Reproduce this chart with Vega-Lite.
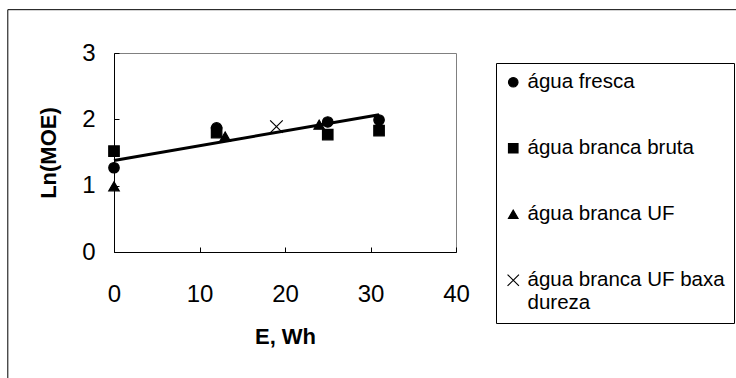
{
  "$schema": "https://vega.github.io/schema/vega-lite/v6.json",
  "autosize": "none",
  "width": 342,
  "height": 199,
  "padding": {"left": 114, "top": 53, "right": 280, "bottom": 126},
  "background": "white",
  "config": {
    "font": "Liberation Sans",
    "view": {"stroke": "#808080", "strokeWidth": 1},
    "axis": {
      "labelFont": "Liberation Sans",
      "titleFont": "Liberation Sans",
      "labelFontSize": 24,
      "titleFontSize": 22,
      "titleFontWeight": "bold",
      "labelColor": "black",
      "titleColor": "black",
      "domainColor": "black",
      "tickColor": "black",
      "grid": false
    }
  },
  "datasets": {
    "pts": [
      {"E": 0, "lnMOE": 1.27, "serie": "água fresca"},
      {"E": 12, "lnMOE": 1.87, "serie": "água fresca"},
      {"E": 25, "lnMOE": 1.96, "serie": "água fresca"},
      {"E": 31, "lnMOE": 1.99, "serie": "água fresca"},
      {"E": 0, "lnMOE": 1.52, "serie": "água branca bruta"},
      {"E": 12, "lnMOE": 1.8, "serie": "água branca bruta"},
      {"E": 25, "lnMOE": 1.77, "serie": "água branca bruta"},
      {"E": 31, "lnMOE": 1.83, "serie": "água branca bruta"},
      {"E": 0, "lnMOE": 0.99, "serie": "água branca UF"},
      {"E": 13, "lnMOE": 1.74, "serie": "água branca UF"},
      {"E": 24, "lnMOE": 1.92, "serie": "água branca UF"},
      {"E": 19, "lnMOE": 1.89, "serie": "água branca UF baxa dureza"}
    ],
    "trend": [
      {"E": 0, "lnMOE": 1.38},
      {"E": 31, "lnMOE": 2.07}
    ]
  },
  "layer": [
    {
      "data": {"values": [{"a": 1}]},
      "mark": {"type": "rect", "clip": false, "fill": null, "stroke": "black", "strokeWidth": 1},
      "encoding": {
        "x": {"datum": -12.42, "type": "quantitative", "scale": {"domain": [0, 40]}},
        "x2": {"datum": 80},
        "y": {"datum": 3.653, "type": "quantitative"},
        "y2": {"datum": -4}
      }
    },
    {
      "data": {"name": "trend"},
      "mark": {"type": "line", "color": "black", "strokeWidth": 3},
      "encoding": {
        "x": {"field": "E", "type": "quantitative"},
        "y": {"field": "lnMOE", "type": "quantitative"}
      }
    },
    {
      "data": {"name": "pts"},
      "mark": {"type": "point", "filled": false, "strokeWidth": 1.2, "opacity": 1, "size": 110},
      "encoding": {
        "x": {
          "field": "E", "type": "quantitative", "title": "E, Wh",
          "scale": {"domain": [0, 40], "nice": false},
          "axis": {"values": [0, 10, 20, 30, 40], "format": "d", "labelFlush": false, "tickSize": -5, "labelPadding": 35, "titlePadding": 20}
        },
        "y": {
          "field": "lnMOE", "type": "quantitative", "title": "Ln(MOE)",
          "scale": {"domain": [0, 3], "nice": false},
          "axis": {"values": [0, 1, 2, 3], "format": "d", "tickSize": -5, "labelPadding": 24, "titlePadding": 21}
        },
        "shape": {
          "field": "serie", "type": "nominal",
          "scale": {
            "domain": ["água fresca", "água branca bruta", "água branca UF", "água branca UF baxa dureza"],
            "range": ["circle", "square", "triangle-up", "M-1.2,-1.2L1.2,1.2M-1.2,1.2L1.2,-1.2"]
          },
          "legend": {
            "title": null,
            "orient": "none",
            "legendX": 382,
            "legendY": 10,
            "strokeColor": "black",
            "fillColor": "white",
            "padding": 9,
            "rowPadding": 45,
            "labelFontSize": 20.5,
            "labelFont": "Liberation Sans",
            "labelColor": "black",
            "labelLimit": 300,
            "symbolSize": 90,
            "symbolStrokeWidth": 1.2,
            "symbolOffset": -2,
            "labelOffset": 4,
            "labelExpr": "datum.label == 'água branca UF baxa dureza' ? ['água branca UF baxa', 'dureza'] : datum.label"
          }
        },
        "fill": {
          "field": "serie", "type": "nominal",
          "scale": {
            "domain": ["água fresca", "água branca bruta", "água branca UF", "água branca UF baxa dureza"],
            "range": ["black", "black", "black", "transparent"]
          }
        },
        "stroke": {
          "field": "serie", "type": "nominal",
          "scale": {
            "domain": ["água fresca", "água branca bruta", "água branca UF", "água branca UF baxa dureza"],
            "range": ["black", "black", "black", "black"]
          }
        }
      }
    }
  ]
}
